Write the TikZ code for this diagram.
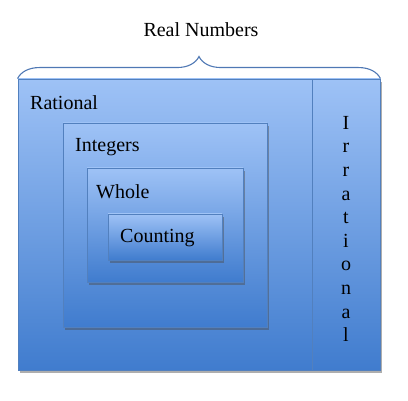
\documentclass[tikz,border=0pt]{standalone}
\usepackage{fontspec}
\setmainfont{Liberation Serif}
\usetikzlibrary{shadows,decorations.pathreplacing}
\definecolor{boxtop}{RGB}{158,194,246}
\definecolor{boxbot}{RGB}{64,124,206}
\definecolor{boxedge}{RGB}{82,128,190}
\definecolor{braceblue}{RGB}{79,120,180}

\begin{document}
\begin{tikzpicture}[x=1pt,y=-1pt]
  \tikzstyle{setbox}=[rectangle, draw=boxedge, line width=0.9pt, top color=boxtop, bottom color=boxbot, inner sep=0pt, drop shadow={shadow xshift=2pt, shadow yshift=-3pt, opacity=0.45, fill=black!70}]
  \tikzstyle{setlabel}=[anchor=west, inner sep=0pt, font=\fontsize{20}{22}\selectfont]
  \useasboundingbox (0,0) rectangle (408,401);
  \node[setbox, minimum width=294pt, minimum height=291pt] (rational) at (165,224.5) {};
  \node[setbox, minimum width=68pt, minimum height=291pt] (irrational) at (346,224.5) {};
  \node[setbox, minimum width=204pt, minimum height=204pt] (integers) at (165,225) {};
  \node[setbox, minimum width=156pt, minimum height=114pt] (whole) at (165,225) {};
  \node[setbox, minimum width=114pt, minimum height=46pt] (counting) at (165,237) {};
  \node[setlabel] (ratlabel) at (30,103) {Rational};
  \node[setlabel] (intlabel) at (75,147) {Integers};
  \node[setlabel] (whlabel) at (96,192) {Whole};
  \node[setlabel] (cntlabel) at (120,238) {Counting};
  \node[inner sep=0pt, align=center, font=\fontsize{20}{23.6}\selectfont] (irrlabel) at (346,229) {I\\r\\r\\a\\t\\i\\o\\n\\a\\l};
  \draw[braceblue, line width=1.1pt, decorate, decoration={brace, amplitude=22pt}] (rational.north west) -- (irrational.north east);
  \node[font=\fontsize{20}{22}\selectfont] (reallabel) at (201,30) {Real Numbers};
\end{tikzpicture}
\end{document}
